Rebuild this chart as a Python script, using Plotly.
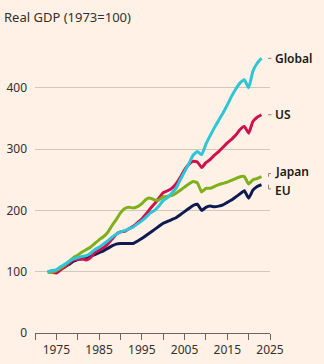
import plotly.graph_objects as go

# Real GDP indexed to 1973 = 100
years = list(range(1973, 2024))

global_gdp = [100, 102, 103, 108, 112, 117, 121, 123, 125, 126,
              130, 136, 140, 145, 150, 156, 161, 165, 167, 170,
              173, 178, 183, 189, 196, 200, 207, 216, 221, 228,
              236, 250, 263, 276, 290, 296, 291, 308, 322, 335,
              347, 359, 372, 386, 398, 408, 413, 400, 427, 440,
              448]

us_gdp = [100, 99, 98, 103, 108, 114, 119, 120, 121, 119,
          123, 131, 135, 139, 145, 153, 161, 165, 166, 170,
          174, 180, 186, 194, 203, 211, 220, 229, 232, 236,
          243, 254, 266, 275, 280, 279, 270, 278, 283, 290,
          296, 303, 310, 316, 323, 332, 337, 326, 345, 352,
          356]

japan_gdp = [100, 99, 102, 106, 111, 117, 123, 127, 132, 136,
             140, 146, 152, 157, 164, 175, 185, 196, 203, 205,
             204, 206, 211, 218, 220, 217, 217, 222, 223, 224,
             228, 233, 238, 243, 247, 245, 230, 236, 236, 239,
             242, 244, 246, 249, 252, 255, 255, 243, 250, 252,
             255]

eu_gdp = [100, 101, 100, 105, 108, 112, 117, 120, 121, 122,
          125, 128, 131, 134, 138, 142, 145, 146, 146, 146,
          146, 150, 154, 159, 164, 169, 174, 179, 182, 185,
          188, 193, 198, 203, 208, 210, 200, 205, 207, 206,
          207, 209, 213, 217, 222, 227, 232, 220, 233, 239,
          242]

series_names = ["EU", "US", "Japan", "Global"]
series_values = [eu_gdp, us_gdp, japan_gdp, global_gdp]
series_colors = ["#0d1b52", "#cf1150", "#7fb01c", "#2cc6d8"]

x_ticks = list(range(1970, 2026, 5))
x_tick_text = [str(t) if (t - 1975) % 10 == 0 else "" for t in x_ticks]
y_ticks = [0, 100, 200, 300, 400]

title_text = "Real GDP (1973=100)"

# Layout geometry
W, H = 324, 364
M_L, M_R, M_T, M_B = 35, 54, 51, 31
X_RANGE = [1970, 2025]
Y_RANGE = [0, 460]
plot_w = W - M_L - M_R

FONT = "Noto Sans, Open Sans, sans-serif"
BG = "#fff1e5"
TEXT = "#33302e"
AXIS = "#6b6460"
GRID = "#d3c7bc"
LEADER = "#8c8580"

fig = go.Figure()
for name, vals, col in zip(series_names, series_values, series_colors):
    fig.add_trace(go.Scatter(
        x=years, y=vals, name=name, mode="lines",
        line=dict(color=col, width=3, shape="spline", smoothing=0.4),
        hoverinfo="x+y+name",
    ))


def py(v):
    return (v - Y_RANGE[0]) / (Y_RANGE[1] - Y_RANGE[0])


def px_off(dx):
    # paper x just past the right edge of the plot, offset in pixels
    return 1 + dx / plot_w


# Labels at the end of each line; Japan and EU are pushed apart
label_nudge = {"Global": 0, "US": 0, "Japan": 8, "EU": -10}
annotations = []
shapes = []
for name, vals in zip(series_names, series_values):
    end = vals[-1]
    lab = end + label_nudge[name]
    annotations.append(dict(
        xref="paper", yref="paper", x=px_off(3), y=py(lab),
        xanchor="left", yanchor="middle", showarrow=False, text=name,
        font=dict(family=FONT, size=12, color="#1a1817", weight=600),
    ))
    if label_nudge[name] == 0:
        shapes.append(dict(
            type="line", xref="paper", yref="paper",
            x0=px_off(-2), x1=px_off(1.5), y0=py(end), y1=py(end),
            line=dict(color=LEADER, width=1),
        ))
    else:
        x0, x1 = px_off(-1.5), px_off(1)
        tip = lab - (3 if lab > end else -3)
        shapes.append(dict(
            type="path", xref="paper", yref="paper",
            path=f"M {x0},{py(end)} L {x0},{py(tip)} L {x1},{py(tip)}",
            line=dict(color=LEADER, width=1),
        ))

fig.update_layout(
    width=W, height=H,
    margin=dict(l=M_L, r=M_R, t=M_T, b=M_B, autoexpand=False),
    paper_bgcolor=BG, plot_bgcolor=BG,
    showlegend=False,
    font=dict(family=FONT, size=12, color=TEXT),
    title=dict(text=title_text, x=4 / W, xanchor="left",
               y=1 - 17 / H, yanchor="middle",
               font=dict(family=FONT, size=13, color=TEXT)),
    annotations=annotations,
    shapes=shapes,
    xaxis=dict(
        range=X_RANGE, tickvals=x_ticks, ticktext=x_tick_text,
        automargin=False,
        showgrid=False, zeroline=False,
        showline=True, linecolor=AXIS, linewidth=1,
        ticks="outside", ticklen=6, tickcolor=AXIS, tickwidth=1,
        tickfont=dict(size=12, color=TEXT),
    ),
    yaxis=dict(
        range=Y_RANGE, tickvals=y_ticks, automargin=False,
        showgrid=True, gridcolor=GRID, gridwidth=1,
        zeroline=False, showline=False, ticks="",
        ticklabelstandoff=7,
        tickfont=dict(size=12, color=TEXT),
    ),
)

fig.write_html("out.html")
